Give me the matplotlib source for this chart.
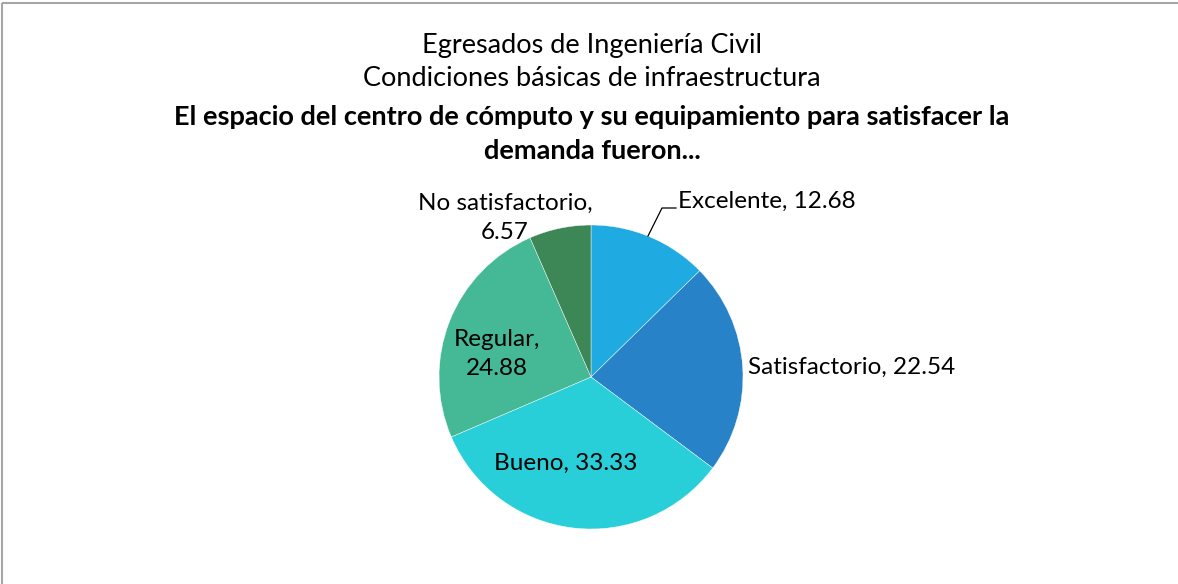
import matplotlib
matplotlib.use("Agg")
import matplotlib.pyplot as plt
import numpy as np

categories = ["Excelente", "Satisfactorio", "Bueno", "Regular", "No satisfactorio"]
values = [12.68, 22.54, 33.33, 24.88, 6.57]
colors = ["#1FAAE1", "#2882C8", "#28CFD8", "#45B995", "#3D8756"]
title_lines = ["Egresados de Ingeniería Civil", "Condiciones básicas de infraestructura"]
title_bold = ["El espacio del centro de cómputo y su equipamiento para satisfacer la",
              "demanda fueron..."]

W, H = 1178, 584
fig = plt.figure(figsize=(W / 100, H / 100), dpi=100)
ax = fig.add_axes([0, 0, 1, 1])
ax.set_xlim(0, W)
ax.set_ylim(0, H)
ax.set_aspect("equal")
ax.axis("off")

FONT = ["Lato", "DejaVu Sans"]

# border (top and left visible)
ax.plot([2, W], [H - 3, H - 3], color="#A6A6A6", lw=1.5, solid_capstyle="butt")
ax.plot([2, 2], [0, H - 3], color="#A6A6A6", lw=1.5, solid_capstyle="butt")

cx, cy, r = 591, H - 377, 152
wedges, _ = ax.pie(values, colors=colors, startangle=90, counterclock=False,
                   center=(cx, cy), radius=r, frame=True,
                   wedgeprops=dict(linewidth=0.3, edgecolor="white"))
ax.set_xlim(0, W)
ax.set_ylim(0, H)
ax.axis("off")

# titles
tfs = 19.5
ax.text(W / 2 + 3, H - 46, title_lines[0], ha="center", va="center", fontsize=tfs, family=FONT)
ax.text(W / 2 + 3, H - 79, title_lines[1], ha="center", va="center", fontsize=tfs, family=FONT)
ax.text(W / 2 + 3, H - 117, title_bold[0], ha="center", va="center", fontsize=tfs,
        fontweight="bold", family=FONT)
ax.text(W / 2 + 3, H - 151, title_bold[1], ha="center", va="center", fontsize=tfs,
        fontweight="bold", family=FONT)

def lab(i):
    return f"{categories[i]}, {values[i]:.2f}"

fs = 17.5
ax.text(678, H - 201, lab(0), ha="left", va="center", fontsize=fs, family=FONT)
ax.plot([648, 662, 676], [H - 236, H - 208, H - 208], color="black", lw=0.9)
ax.text(748, H - 367, lab(1), ha="left", va="center", fontsize=fs, family=FONT)
ax.text(566, H - 463, lab(2), ha="center", va="center", fontsize=fs, family=FONT)
ax.text(497, H - 354, f"{categories[3]},\n{values[3]:.2f}", ha="center", va="center",
        fontsize=fs, family=FONT, linespacing=1.45)
ax.text(505, H - 218, f"{categories[4]},\n{values[4]:.2f}", ha="center", va="center",
        fontsize=fs, family=FONT, linespacing=1.45)

fig.savefig("out.png", dpi=100)
